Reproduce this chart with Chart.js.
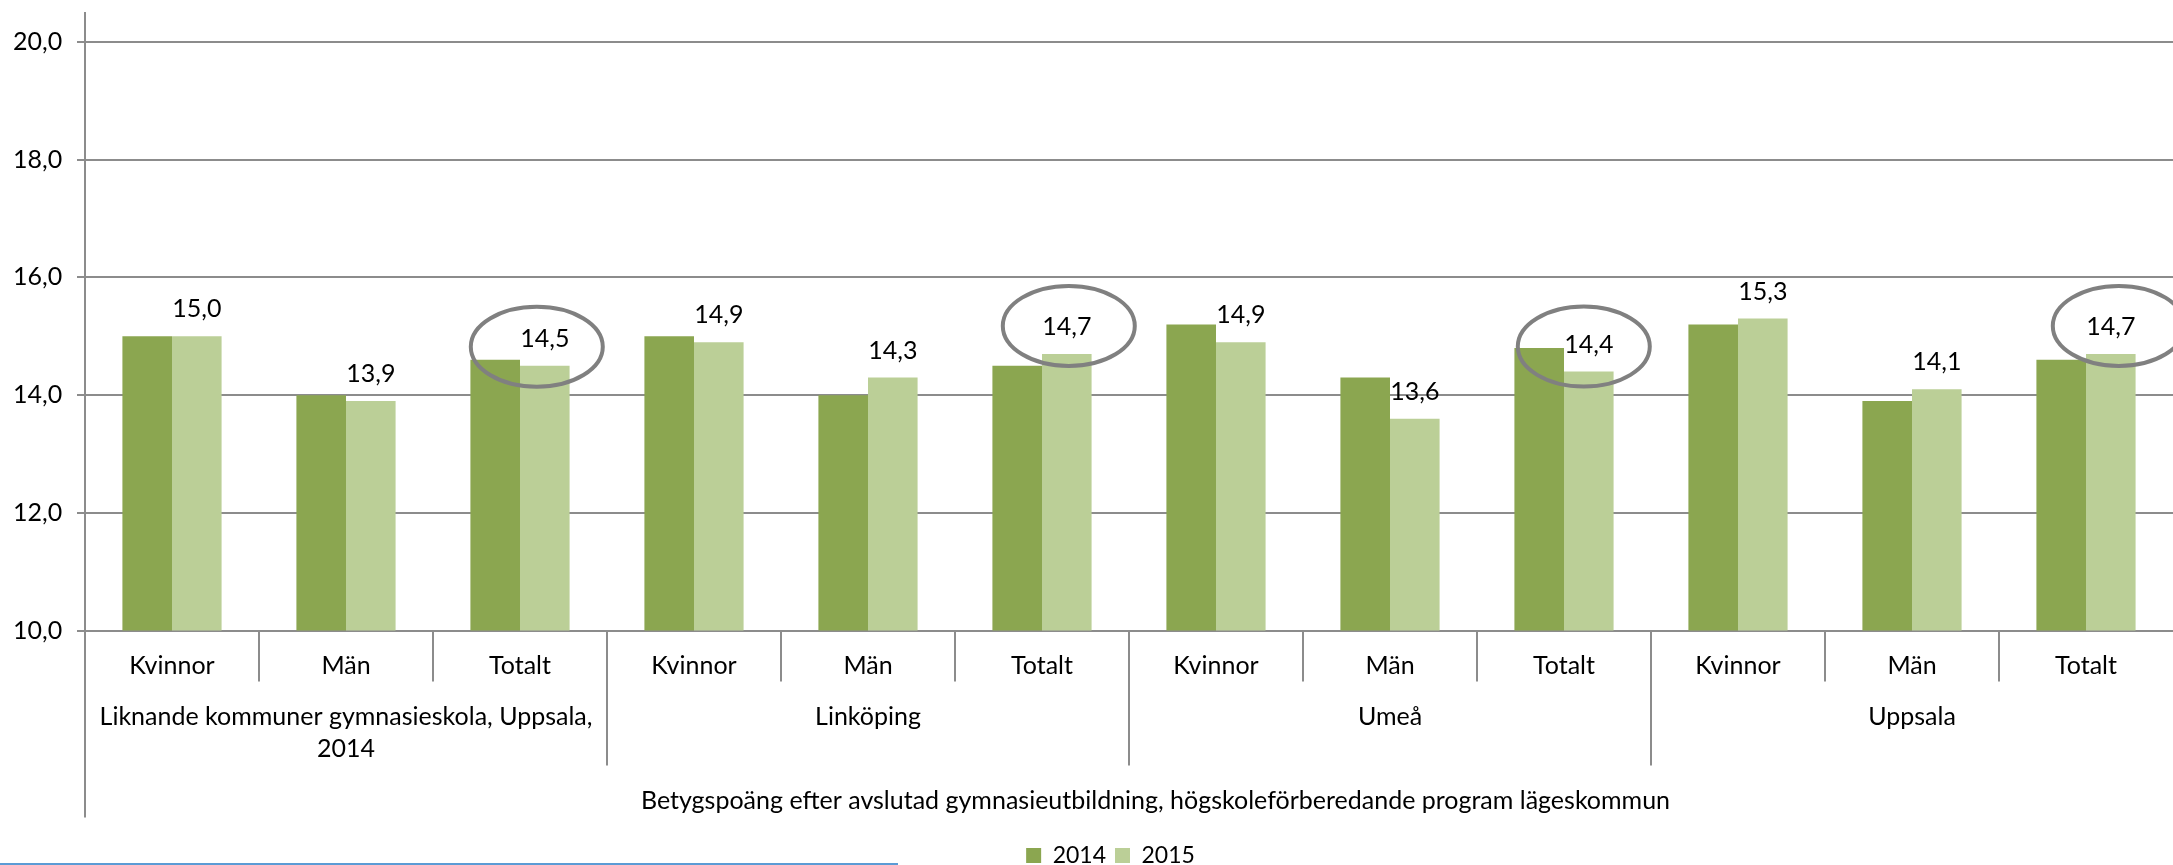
<!DOCTYPE html>
<html>
<head>
<meta charset="utf-8">
<script src="https://cdn.jsdelivr.net/npm/chart.js@4.4.1/dist/chart.umd.min.js"></script>
<style>
  html, body { margin: 0; padding: 0; background: #fff; }
  #chart { display: block; }
</style>
</head>
<body>
<canvas id="chart" width="2173" height="865"></canvas>
<script>
const categories = ['Kvinnor', 'Män', 'Totalt', 'Kvinnor', 'Män', 'Totalt', 'Kvinnor', 'Män', 'Totalt', 'Kvinnor', 'Män', 'Totalt'];
const groups = [
  ['Liknande kommuner gymnasieskola, Uppsala,', '2014'],
  ['Linköping'],
  ['Umeå'],
  ['Uppsala']
];
const seriesNames = ['2014', '2015'];
const values2014 = [15.0, 14.0, 14.6, 15.0, 14.0, 14.5, 15.2, 14.3, 14.8, 15.2, 13.9, 14.6];
const values2015 = [15.0, 13.9, 14.5, 14.9, 14.3, 14.7, 14.9, 13.6, 14.4, 15.3, 14.1, 14.7];
const yTicks = [10, 12, 14, 16, 18, 20];
const circled = [2, 5, 8, 11];   // Totalt bars that have a ring round the label
const axisTitle = 'Betygspoäng efter avslutad gymnasieutbildning, högskoleförberedande program lägeskommun';

const GRID = '#8c8c8c';
const FONT = 'Lato, "Noto Sans", sans-serif';
const SIZE = 25;
Chart.defaults.font.family = FONT;
Chart.defaults.font.size = SIZE;
Chart.defaults.color = '#000';

const fmt = v => v.toFixed(1).replace('.', ',');

// the rings were placed by hand in the original, so each sits a little off the label
const ringNudge = { 2: [-8, 8], 5: [2, -1], 8: [-5, 2], 11: [8, -1] };

// multi level category axis, axis title, value labels and the drawn rings
const extras = {
  id: 'extras',
  afterLayout(chart) {
    const lg = chart.legend;
    lg.left += 17.5;
    lg.right += 17.5;
  },
  afterDatasetsDraw(chart) {
    const { ctx, chartArea: area, scales: { x } } = chart;
    const b = area.bottom;
    const step = x.getPixelForValue(1) - x.getPixelForValue(0);

    ctx.save();
    ctx.strokeStyle = GRID;
    ctx.lineWidth = 2;
    for (let i = 1; i < categories.length; i++) {
      const px = Math.round(x.getPixelForValue(i) - step / 2);
      const len = i % 3 === 0 ? 135 : 51;
      ctx.beginPath();
      ctx.moveTo(px, b);
      ctx.lineTo(px, b + len);
      ctx.stroke();
    }
    ctx.beginPath();
    ctx.moveTo(area.left, b);
    ctx.lineTo(area.left, b + 187);
    ctx.stroke();

    ctx.fillStyle = '#000';
    ctx.font = SIZE + 'px ' + FONT;
    ctx.textAlign = 'center';
    ctx.textBaseline = 'middle';
    groups.forEach((lines, g) => {
      const cx = (x.getPixelForValue(g * 3) + x.getPixelForValue(g * 3 + 2)) / 2;
      lines.forEach((t, k) => ctx.fillText(t, cx, b + 86 + k * 32.5));
    });
    ctx.fillText(axisTitle, (area.left + area.right) / 2 + 26.5, b + 170.5);

    const meta = chart.getDatasetMeta(1);
    meta.data.forEach((bar, i) => {
      ctx.fillText(fmt(values2015[i]), bar.x, bar.y - 27);
    });

    ctx.strokeStyle = '#808080';
    ctx.lineWidth = 4;
    circled.forEach(i => {
      const bar = meta.data[i];
      const [dx, dy] = ringNudge[i] || [0, 0];
      ctx.beginPath();
      ctx.ellipse(bar.x + dx, bar.y - 27 + dy, 66, 40, 0, 0, Math.PI * 2);
      ctx.stroke();
    });

    ctx.strokeStyle = '#5b9bd5';
    ctx.lineWidth = 2;
    ctx.beginPath();
    ctx.moveTo(0, chart.height - 1);
    ctx.lineTo(898, chart.height - 1);
    ctx.stroke();
    ctx.restore();
  }
};

new Chart(document.getElementById('chart'), {
  type: 'bar',
  data: {
    labels: categories,
    datasets: [
      { label: seriesNames[0], data: values2014, backgroundColor: '#8ba650' },
      { label: seriesNames[1], data: values2015, backgroundColor: '#bbcf97' }
    ]
  },
  options: {
    responsive: false,
    animation: false,
    layout: { padding: { top: 11, left: 13, right: 0, bottom: -12 } },
    datasets: { bar: { categoryPercentage: 0.57, barPercentage: 1.0 } },
    scales: {
      x: {
        offset: true,
        grid: { display: false, drawTicks: false },
        border: { display: false },
        ticks: { padding: 20, maxRotation: 0, autoSkip: false },
        afterFit(scale) { scale.height = 204.4; }
      },
      y: {
        min: 10,
        max: 20.5,
        afterBuildTicks(scale) { scale.ticks = yTicks.map(v => ({ value: v })); },
        afterFit(scale) { scale.width = 72; },
        border: { display: true, color: GRID, width: 2 },
        grid: { color: GRID, lineWidth: 2, tickLength: 8, tickColor: GRID },
        ticks: { padding: 0, crossAlign: 'far', font: { size: SIZE, lineHeight: 1 }, callback: v => fmt(v) }
      }
    },
    plugins: {
      legend: {
        position: 'bottom',
        labels: { boxWidth: 15, boxHeight: 15, padding: 9, font: { size: 23 } }
      },
      tooltip: { enabled: false }
    }
  },
  plugins: [extras]
});
</script>
</body>
</html>
